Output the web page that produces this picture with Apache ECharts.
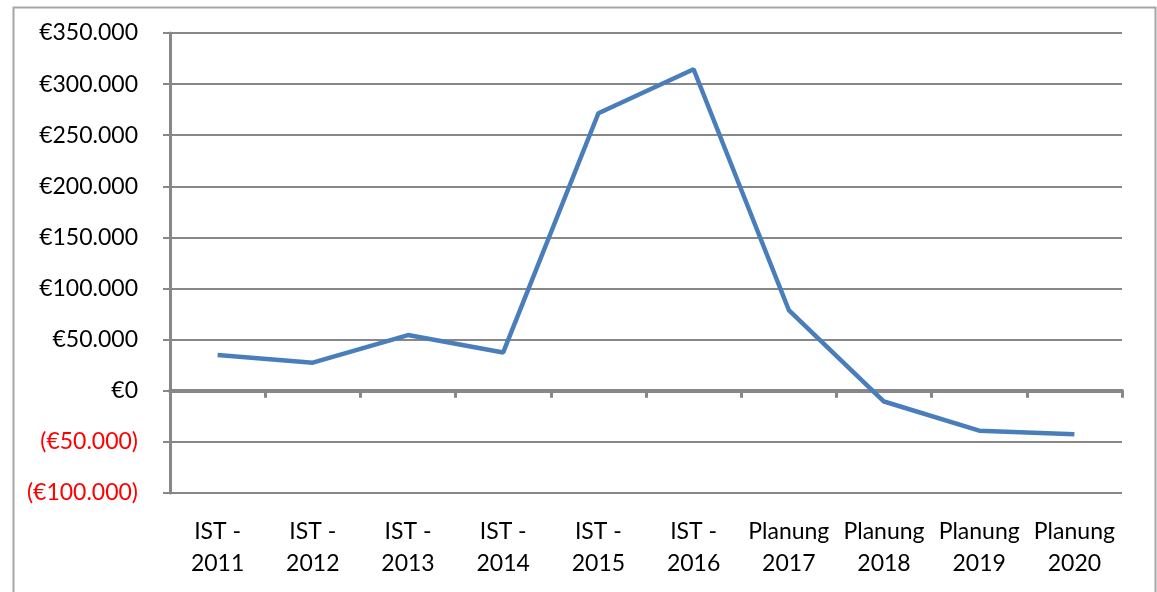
<!DOCTYPE html>
<html>
<head>
<meta charset="utf-8">
<script src="https://cdn.jsdelivr.net/npm/echarts@6/dist/echarts.min.js"></script>
<style>
  html, body { margin: 0; padding: 0; background: #fff; }
  #chart { width: 1157px; height: 592px; }
</style>
</head>
<body>
<div id="chart"></div>
<script>
// Kategorien und Werte
var categories = ['IST -\n2011', 'IST -\n2012', 'IST -\n2013', 'IST -\n2014', 'IST -\n2015',
                  'IST -\n2016', 'Planung\n2017', 'Planung\n2018', 'Planung\n2019', 'Planung\n2020'];
var values = [35000, 27500, 54500, 37500, 271500, 314500, 79000, -10500, -39000, -42500];
var yTicks = { min: -100000, max: 350000, step: 50000 };

function euro(v) {
    var s = Math.abs(v).toString().replace(/\B(?=(\d{3})+(?!\d))/g, '.');
    return v < 0 ? '(€' + s + ')' : '€' + s;
}

var chart = echarts.init(document.getElementById('chart'));
var grey = '#878787';
var font = 'Lato, "Open Sans", sans-serif';

chart.setOption({
    animation: false,
    graphic: [{
        type: 'rect',
        left: 11, top: 5,
        shape: { width: 1142, height: 620 },
        style: { fill: 'none', stroke: '#a6a6a6', lineWidth: 2 }
    }],
    grid: { left: 170, right: 35, top: 33, bottom: 99 },
    xAxis: [
        {
            type: 'category',
            data: categories,
            position: 'bottom',
            boundaryGap: true,
            axisLine: { show: false, onZero: false },
            axisTick: { show: false },
            axisLabel: {
                interval: 0, margin: 23, color: '#000',
                fontSize: 23, fontFamily: font, lineHeight: 32
            }
        },
        {
            type: 'category',
            data: categories,
            position: 'top',
            boundaryGap: true,
            axisLine: { show: true, onZero: true, lineStyle: { color: grey, width: 4 } },
            axisTick: { show: true, inside: true, length: 7, lineStyle: { color: grey, width: 3 } },
            axisLabel: { show: false }
        }
    ],
    yAxis: {
        type: 'value',
        min: yTicks.min, max: yTicks.max, interval: yTicks.step,
        axisLine: { show: true, lineStyle: { color: grey, width: 3 } },
        axisTick: { show: true, length: 7, lineStyle: { color: grey, width: 2 } },
        splitLine: { show: true, lineStyle: { color: grey, width: 2 } },
        axisLabel: {
            margin: 32, fontSize: 23, fontFamily: font,
            formatter: euro,
            color: function (v) { return v < 0 ? '#ff0000' : '#000'; }
        }
    },
    series: [{
        type: 'line',
        data: values,
        symbol: 'none',
        lineStyle: { color: '#4a7ebb', width: 4.5 }
    }]
});
</script>
</body>
</html>
